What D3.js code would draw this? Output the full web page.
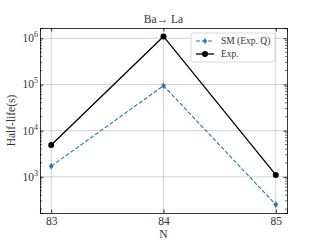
<!DOCTYPE html>
<html>
<head>
<meta charset="utf-8">
<script src="https://cdn.jsdelivr.net/npm/d3@7"></script>
<style>
body { margin: 0; background: #fff; }
svg text { font-family: "Liberation Serif", "DejaVu Serif", serif !important; }
</style>
</head>
<body>
<div id="chart-area"></div>
<script>
// data
var nValues = [83, 84, 85];
var smValues = [1700, 94000, 250];
var expValues = [4900, 1100000, 1100];
var yTickValues = [1e3, 1e4, 1e5, 1e6];
var yTickExps = ["3", "4", "5", "6"];
var seriesNames = ["SM (Exp. Q)", "Exp."];

var width = 320, height = 240;
var margin = {top: 28, right: 33, bottom: 27, left: 40};
var w = width - margin.left - margin.right;
var h = height - margin.top - margin.bottom;

var svg = d3.select("#chart-area").append("svg").attr("width", width).attr("height", height);
var graph = svg.append("g").attr("transform", "translate(" + margin.left + "," + margin.top + ")");

var x = d3.scaleLinear().domain([82.9, 85.1]).range([0, w]);
var all = smValues.concat(expValues);
var lmin = Math.log10(d3.min(all)), lmax = Math.log10(d3.max(all));
var pad = (lmax - lmin) * 0.05;
var y = d3.scaleLog().domain([Math.pow(10, lmin - pad), Math.pow(10, lmax + pad)]).range([h, 0]);

// grid
graph.append("g").selectAll("line").data(nValues).enter().append("line")
    .attr("x1", function(d) { return x(d); }).attr("x2", function(d) { return x(d); })
    .attr("y1", 0).attr("y2", h).attr("stroke", "#b0b0b0").attr("stroke-width", 0.8).attr("opacity", 0.7);
graph.append("g").selectAll("line").data(yTickValues).enter().append("line")
    .attr("y1", function(d) { return y(d); }).attr("y2", function(d) { return y(d); })
    .attr("x1", 0).attr("x2", w).attr("stroke", "#b0b0b0").attr("stroke-width", 0.8).attr("opacity", 0.7);

// minor ticks
var minor = [];
for (var e = 2; e <= 6; e++) {
    for (var m = 2; m <= 9; m++) {
        var v = m * Math.pow(10, e);
        if (v >= y.domain()[0] && v <= y.domain()[1]) minor.push(v);
    }
}

var xAxisB = d3.axisBottom(x).tickValues(nValues).tickSize(-3.5).tickPadding(4).tickFormat(d3.format("d"));
var xAxisT = d3.axisTop(x).tickValues(nValues).tickSize(-3.5).tickFormat("");
var yAxisL = d3.axisLeft(y).tickValues(yTickValues).tickSize(-3.5).tickFormat("");
var yAxisR = d3.axisRight(y).tickValues(yTickValues).tickSize(-3.5).tickFormat("");

var gB = graph.append("g").attr("transform", "translate(0," + h + ")").call(xAxisB);
graph.append("g").call(xAxisT);
graph.append("g").call(yAxisL);
graph.append("g").attr("transform", "translate(" + w + ",0)").call(yAxisR);

[0, w].forEach(function(px) {
    graph.append("g").selectAll("line").data(minor).enter().append("line")
        .attr("x1", px).attr("x2", px === 0 ? 2 : w - 2)
        .attr("y1", function(d) { return y(d); }).attr("y2", function(d) { return y(d); })
        .attr("stroke", "#000").attr("stroke-width", 0.6);
});

graph.selectAll(".domain").attr("stroke", "#000").attr("stroke-width", 0.8);
graph.selectAll(".tick line").attr("stroke", "#000").attr("stroke-width", 0.8);
gB.selectAll("text").attr("font-size", "11.5px").attr("fill", "#333");

// y tick labels with superscripts
var lab = graph.append("g").selectAll("text").data(yTickValues).enter().append("text")
    .attr("x", -2).attr("y", function(d) { return y(d) + 4; })
    .attr("text-anchor", "end").attr("font-size", "11.5px").attr("fill", "#333");
lab.append("tspan").text("10");
lab.append("tspan").attr("dy", -5).attr("font-size", "8px").text(function(d, i) { return yTickExps[i]; });

// lines
var line = function(vals) {
    return d3.line().x(function(d, i) { return x(nValues[i]); }).y(function(d) { return y(d); })(vals);
};
graph.append("path").attr("d", line(smValues)).attr("fill", "none")
    .attr("stroke", "#1f77b4").attr("stroke-width", 1.1).attr("stroke-dasharray", "4,2");
graph.append("path").attr("d", line(expValues)).attr("fill", "none")
    .attr("stroke", "#000").attr("stroke-width", 1.3);

var diamond = function(cx, cy, r) {
    return "M" + cx + "," + (cy - r) + "L" + (cx + r * 0.7) + "," + cy + "L" + cx + "," + (cy + r) + "L" + (cx - r * 0.7) + "," + cy + "Z";
};
graph.append("g").selectAll("path").data(smValues).enter().append("path")
    .attr("d", function(d, i) { return diamond(x(nValues[i]), y(d), 3.3); })
    .attr("fill", "#1f77b4");
graph.append("g").selectAll("circle").data(expValues).enter().append("circle")
    .attr("cx", function(d, i) { return x(nValues[i]); }).attr("cy", function(d) { return y(d); })
    .attr("r", 3).attr("fill", "#000");

// legend
var lg = graph.append("g").attr("transform", "translate(151,5)");
lg.append("rect").attr("width", 84).attr("height", 29).attr("rx", 2)
    .attr("fill", "#fff").attr("fill-opacity", 0.8).attr("stroke", "#d0d0d0").attr("stroke-width", 0.8);
lg.append("line").attr("x1", 5).attr("x2", 23).attr("y1", 8).attr("y2", 8)
    .attr("stroke", "#1f77b4").attr("stroke-width", 1.1).attr("stroke-dasharray", "4,2");
lg.append("path").attr("d", diamond(14, 8, 3)).attr("fill", "#1f77b4");
lg.append("line").attr("x1", 5).attr("x2", 23).attr("y1", 21).attr("y2", 21)
    .attr("stroke", "#000").attr("stroke-width", 1.3);
lg.append("circle").attr("cx", 14).attr("cy", 21).attr("r", 3).attr("fill", "#000");
lg.selectAll("text.l").data(seriesNames).enter().append("text")
    .attr("x", 30).attr("y", function(d, i) { return 11 + i * 13; })
    .attr("font-size", "9.5px").attr("fill", "#333").text(function(d) { return d; });

// labels
svg.append("text").attr("x", margin.left + w / 2).attr("y", 23).attr("text-anchor", "middle")
    .attr("font-size", "11.5px").attr("fill", "#333").text("Ba\u2192 La");
svg.append("text").attr("x", margin.left + w / 2).attr("y", 238).attr("text-anchor", "middle")
    .attr("font-size", "11.5px").attr("fill", "#333").text("N");
svg.append("text").attr("transform", "translate(15," + (margin.top + h / 2) + ") rotate(-90)")
    .attr("text-anchor", "middle").attr("font-size", "11.5px").attr("fill", "#333").text("Half-life(s)");
</script>
</body>
</html>
